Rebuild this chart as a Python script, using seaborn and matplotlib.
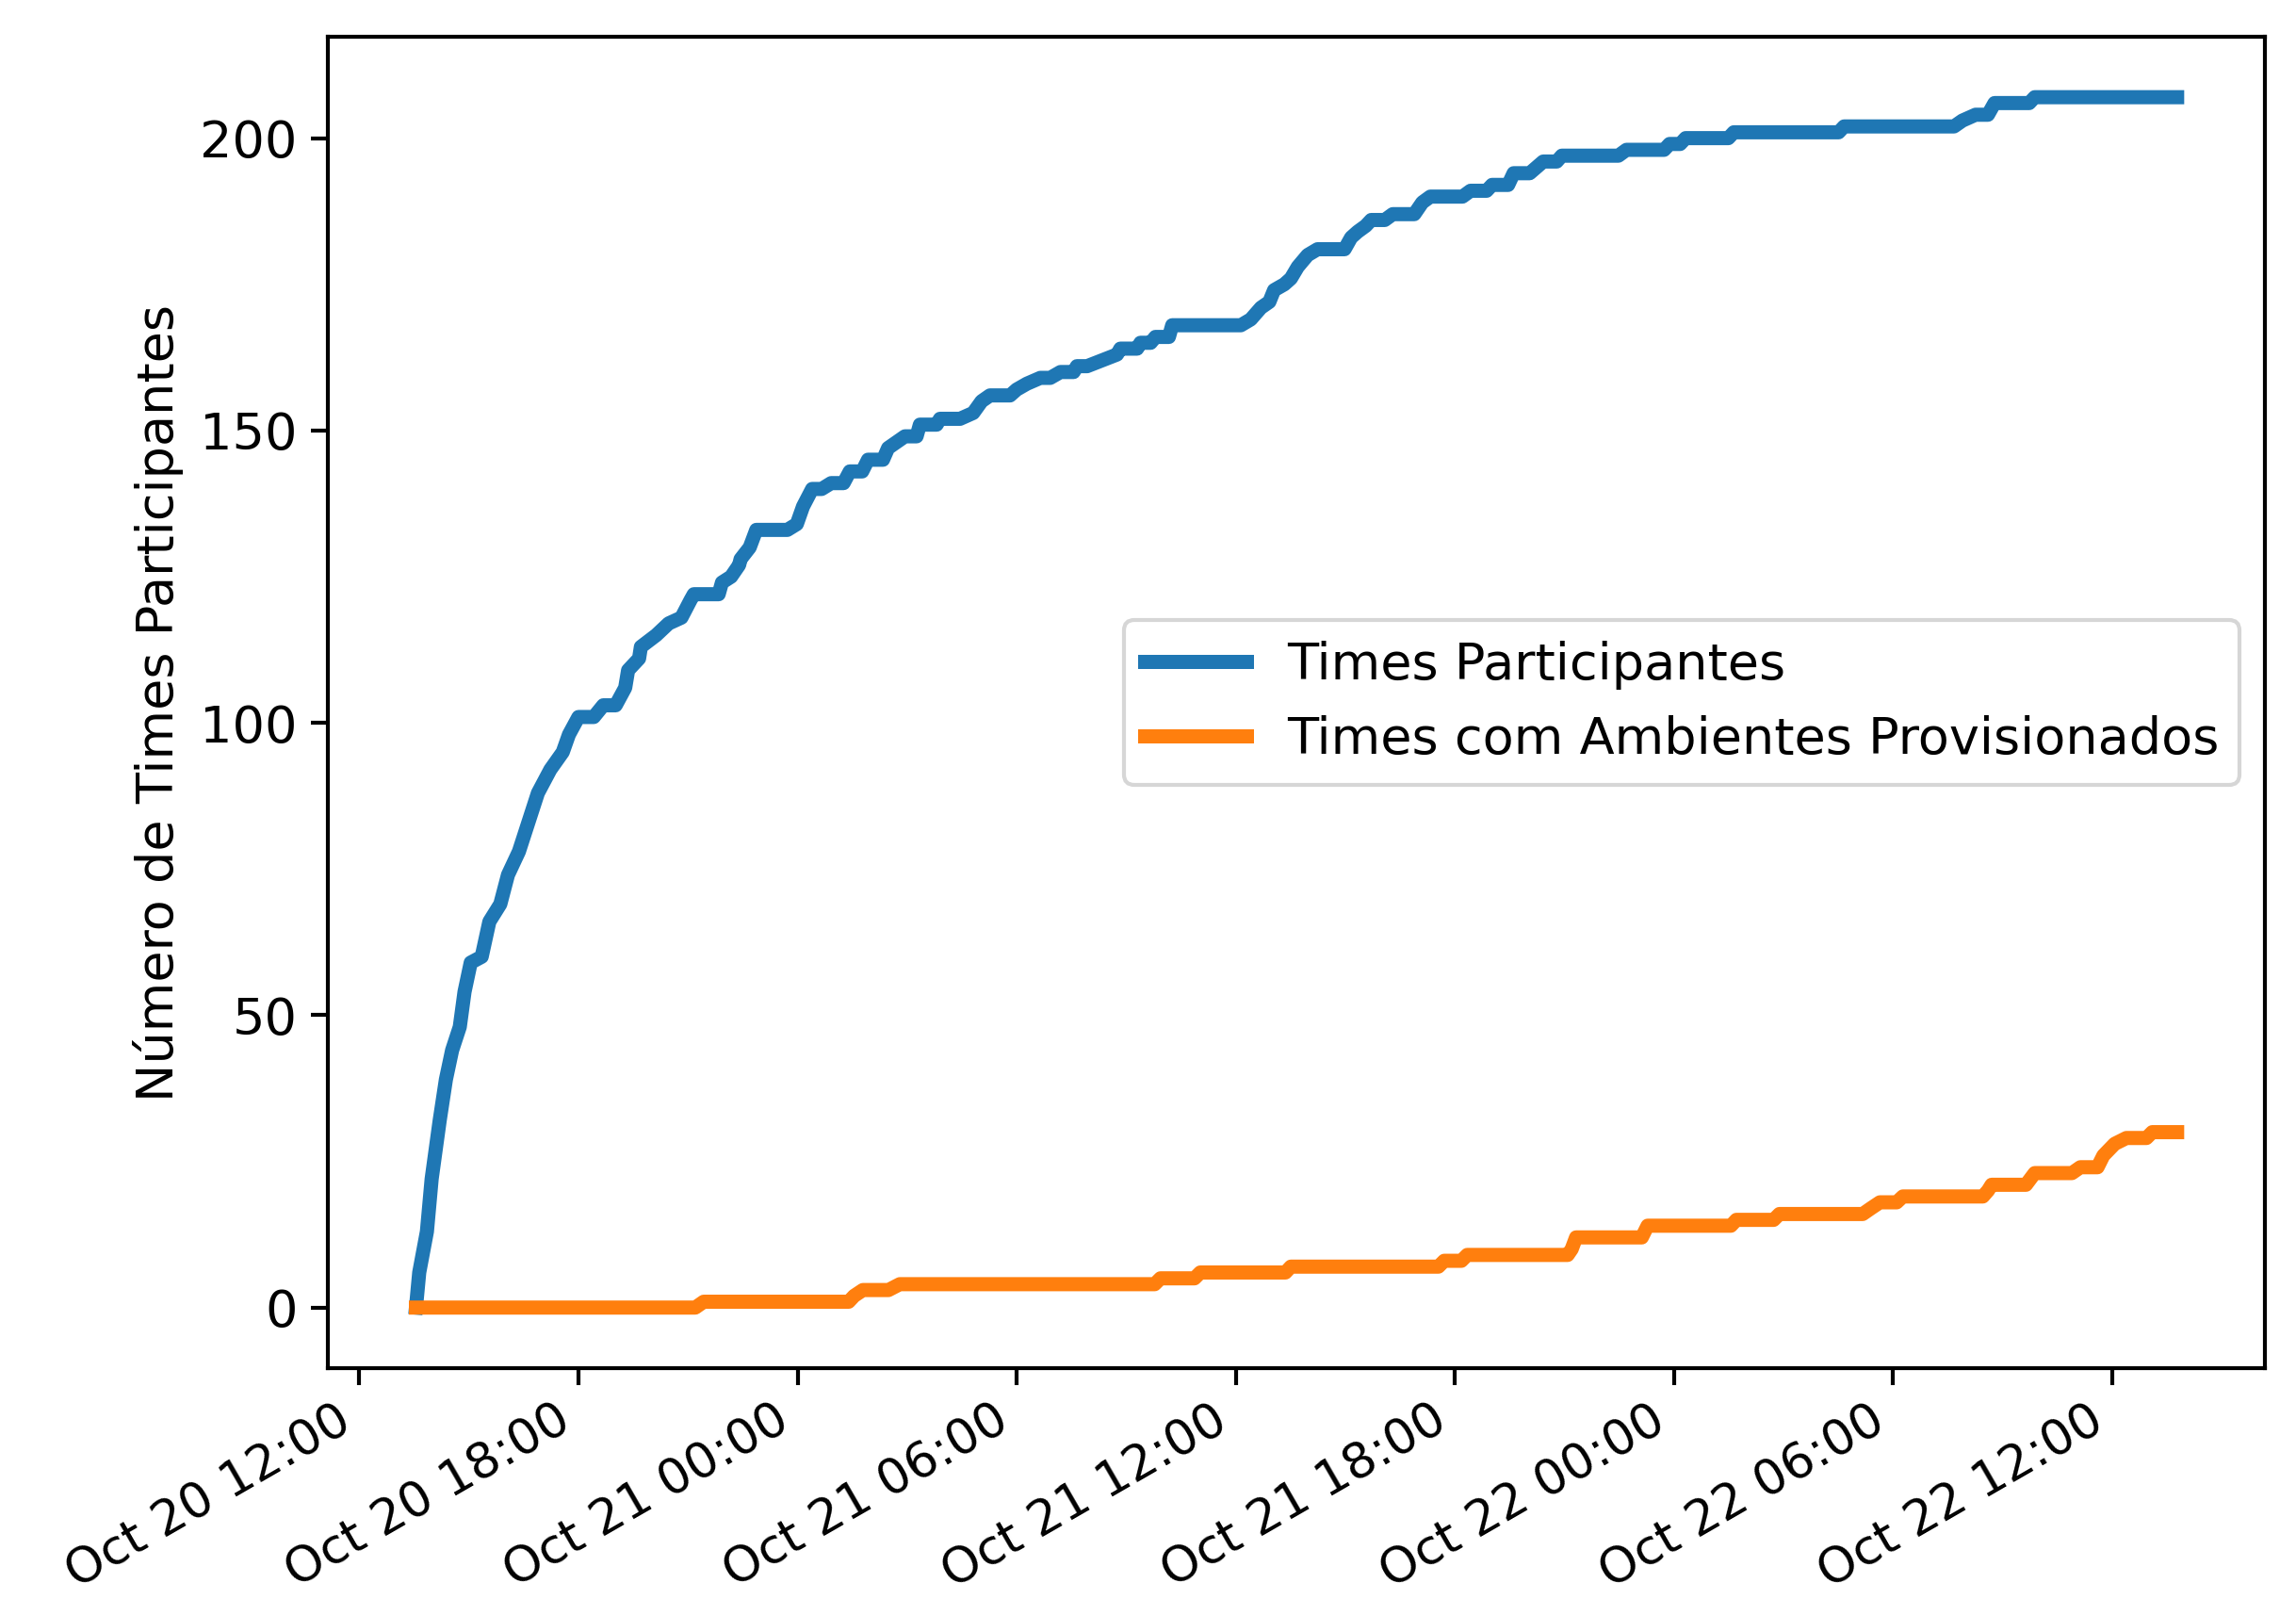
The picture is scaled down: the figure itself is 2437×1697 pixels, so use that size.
# cumulative teams over the event (Oct 20-22)
import pandas as pd
import seaborn as sns
import matplotlib.pyplot as plt
import matplotlib.dates as mdates

# start of the time axis; all times below are hours after it
base_time = pd.Timestamp('2018-10-20 12:00')

# Times Participantes: (hours after base, cumulative count)
blue_hours = [1.55, 1.64, 1.85, 1.98, 2.20, 2.37, 2.54, 2.75, 2.88, 3.05,
              3.35, 3.56, 3.86, 4.07, 4.37, 4.63, 4.89, 5.23, 5.57, 5.74,
              6.00, 6.42, 6.68, 7.02, 7.28, 7.36, 7.66, 7.71, 8.13, 8.47,
              8.82, 9.07, 9.16, 9.84, 9.93, 10.18, 10.40, 10.44, 10.69, 10.87,
              11.72, 11.98, 12.15, 12.40, 12.66, 12.92, 13.26, 13.43, 13.77, 13.93,
              14.34, 14.48, 14.71, 14.94, 15.26, 15.35, 15.81, 15.90, 16.45, 16.81,
              17.04, 17.27, 17.82, 18.00, 18.28, 18.65, 18.92, 19.20, 19.56, 19.65,
              19.93, 20.75, 20.84, 21.30, 21.39, 21.67, 21.80, 22.17, 22.26, 24.14,
              24.41, 24.69, 24.92, 25.05, 25.33, 25.51, 25.70, 25.97, 26.24, 26.98,
              27.16, 27.34, 27.56, 27.71, 28.08, 28.30, 28.89, 29.11, 29.33, 30.21,
              30.43, 30.87, 31.02, 31.46, 31.61, 32.05, 32.42, 32.79, 32.93, 34.48,
              34.70, 35.73, 35.88, 36.17, 36.32, 37.49, 37.64, 40.51, 40.66, 43.67,
              43.90, 44.26, 44.60, 44.78, 45.73, 45.88, 49.78]
blue_counts = [0, 6, 13, 22, 32, 39, 44, 48, 54, 59,
               60, 66, 69, 74, 78, 83, 88, 92, 95, 98,
               101, 101, 103, 103, 106, 109, 111, 113, 115, 117,
               118, 121, 122, 122, 124, 125, 127, 128, 130, 133,
               133, 134, 137, 140, 140, 141, 141, 143, 143, 145,
               145, 147, 148, 149, 149, 151, 151, 152, 152, 153,
               155, 156, 156, 157, 158, 159, 159, 160, 160, 161,
               161, 163, 164, 164, 165, 165, 166, 166, 168, 168,
               169, 171, 172, 174, 175, 176, 178, 180, 181, 181,
               183, 184, 185, 186, 186, 187, 187, 189, 190, 190,
               191, 191, 192, 192, 194, 194, 196, 196, 197, 197,
               198, 198, 199, 199, 200, 200, 201, 201, 202, 202,
               203, 204, 204, 206, 206, 207, 207]

# Times com Ambientes Provisionados
orange_hours = [1.55, 9.20, 9.43, 13.40, 13.55, 13.79, 14.49, 14.80, 21.78, 21.94,
                22.87, 23.03, 25.36, 25.51, 29.55, 29.71, 30.18, 30.34, 33.09, 33.20,
                33.32, 35.12, 35.28, 37.56, 37.71, 38.73, 38.89, 41.17, 41.40, 41.64,
                42.10, 42.27, 44.46, 44.60, 44.70, 45.64, 45.88, 46.90, 47.13, 47.60,
                47.76, 48.07, 48.39, 48.94, 49.10, 49.78]
orange_counts = [0, 0, 1, 1, 2, 3, 3, 4, 4, 5,
                 5, 6, 6, 7, 7, 8, 8, 9, 9, 10,
                 12, 12, 14, 14, 15, 15, 16, 16, 17, 18,
                 18, 19, 19, 20, 21, 21, 23, 23, 24, 24,
                 26, 28, 29, 29, 30, 30]

blue_df = pd.DataFrame({'time': base_time + pd.to_timedelta(blue_hours, unit='h'),
                        'teams': blue_counts})
orange_df = pd.DataFrame({'time': base_time + pd.to_timedelta(orange_hours, unit='h'),
                          'teams': orange_counts})

plt.rcParams['font.size'] = 13
plt.rcParams['xtick.labelsize'] = 12.5
plt.rcParams['xtick.major.pad'] = 3
plt.rcParams['xtick.major.size'] = 4.3
plt.rcParams['ytick.major.size'] = 4.3
plt.rcParams['xtick.major.width'] = 1.0
plt.rcParams['ytick.major.width'] = 1.0
plt.rcParams['axes.linewidth'] = 1.0

fig, ax = plt.subplots(figsize=(8.124, 5.657), dpi=300)
fig.subplots_adjust(left=0.1428, right=0.9865, top=0.977, bottom=0.1444)

sns.lineplot(data=blue_df, x='time', y='teams', ax=ax, color='#1f77b4',
             linewidth=3.6, label='Times Participantes')
sns.lineplot(data=orange_df, x='time', y='teams', ax=ax, color='#ff7f0e',
             linewidth=3.6, label='Times com Ambientes Provisionados')

ax.xaxis.set_major_locator(mdates.HourLocator(byhour=[0, 6, 12, 18]))
ax.xaxis.set_major_formatter(mdates.DateFormatter('%b %d %H:%M'))
plt.setp(ax.get_xticklabels(), rotation=30, ha='right')
ax.set_xlabel('')
ax.set_ylabel('Número de Times Participantes')
ax.legend(loc='center right')

fig.savefig('out.png', dpi=300)
